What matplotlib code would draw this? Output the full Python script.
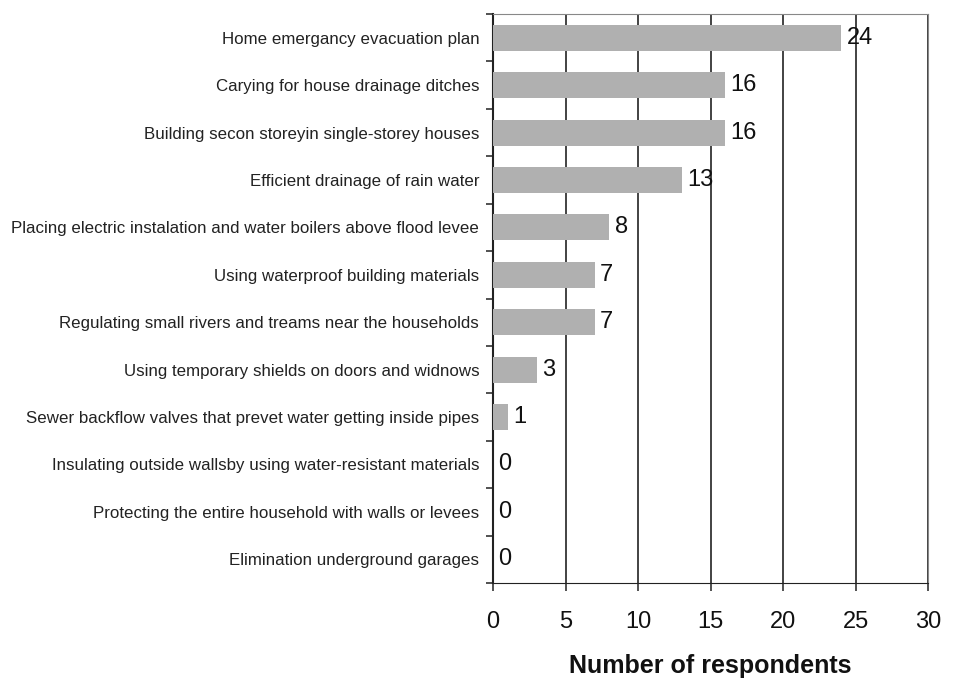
import numpy as np
import matplotlib
matplotlib.use('Agg')
import matplotlib.pyplot as plt

# Data (top to bottom as in the chart)
measures = [
    'Home emergancy evacuation plan',
    'Carying for house drainage ditches',
    'Building secon storeyin single-storey houses',
    'Efficient drainage of rain water',
    'Placing electric instalation and water boilers above flood levee',
    'Using waterproof building materials',
    'Regulating small rivers and treams near the households',
    'Using temporary shields on doors and widnows',
    'Sewer backflow valves that prevet water getting inside pipes',
    'Insulating outside wallsby using water-resistant materials',
    'Protecting the entire household with walls or levees',
    'Elimination underground garages',
]
respondents = [24, 16, 16, 13, 8, 7, 7, 3, 1, 0, 0, 0]
xticks = [0, 5, 10, 15, 20, 25, 30]

plt.rcParams['font.family'] = ['Liberation Sans', 'DejaVu Sans']

fig = plt.figure(figsize=(9.66, 6.8), dpi=100)
ax = fig.add_axes([0.5104, 0.1426, 0.4503, 0.8368])

y = np.arange(len(measures))
ax.barh(y, respondents, height=0.55, color='#b0b0b0', zorder=3)

for yi, v in zip(y, respondents):
    ax.annotate(str(v), (v, yi), xytext=(4, 0), textcoords='offset points',
                va='center', ha='left', fontsize=17, color='#111111', zorder=4)

ax.set_xlim(0, 30)
ax.set_ylim(len(measures) - 0.5, -0.5)
ax.set_xticks(xticks)
ax.set_xticklabels([str(t) for t in xticks], fontsize=17, color='#111111')
ax.set_yticks(y)
ax.set_yticklabels(measures, fontsize=12.2, color='#222222')
ax.set_yticks(np.arange(len(measures) + 1) - 0.5, minor=True)
ax.tick_params(axis='y', which='major', length=0, pad=10)
ax.tick_params(axis='y', which='minor', length=5, width=1.2, color='#333333')
ax.tick_params(axis='x', length=6, width=1.2, color='#333333', pad=14)

ax.xaxis.grid(True, color='#222222', linewidth=1.2, zorder=1)
for side in ['top', 'right']:
    ax.spines[side].set_color('#888888')
ax.spines['left'].set_color('#222222')
ax.spines['left'].set_linewidth(1.5)
ax.spines['bottom'].set_color('#222222')

ax.set_xlabel('Number of respondents', fontsize=18, fontweight='bold',
              color='#111111', labelpad=15)

fig.savefig('out.png', dpi=100)
